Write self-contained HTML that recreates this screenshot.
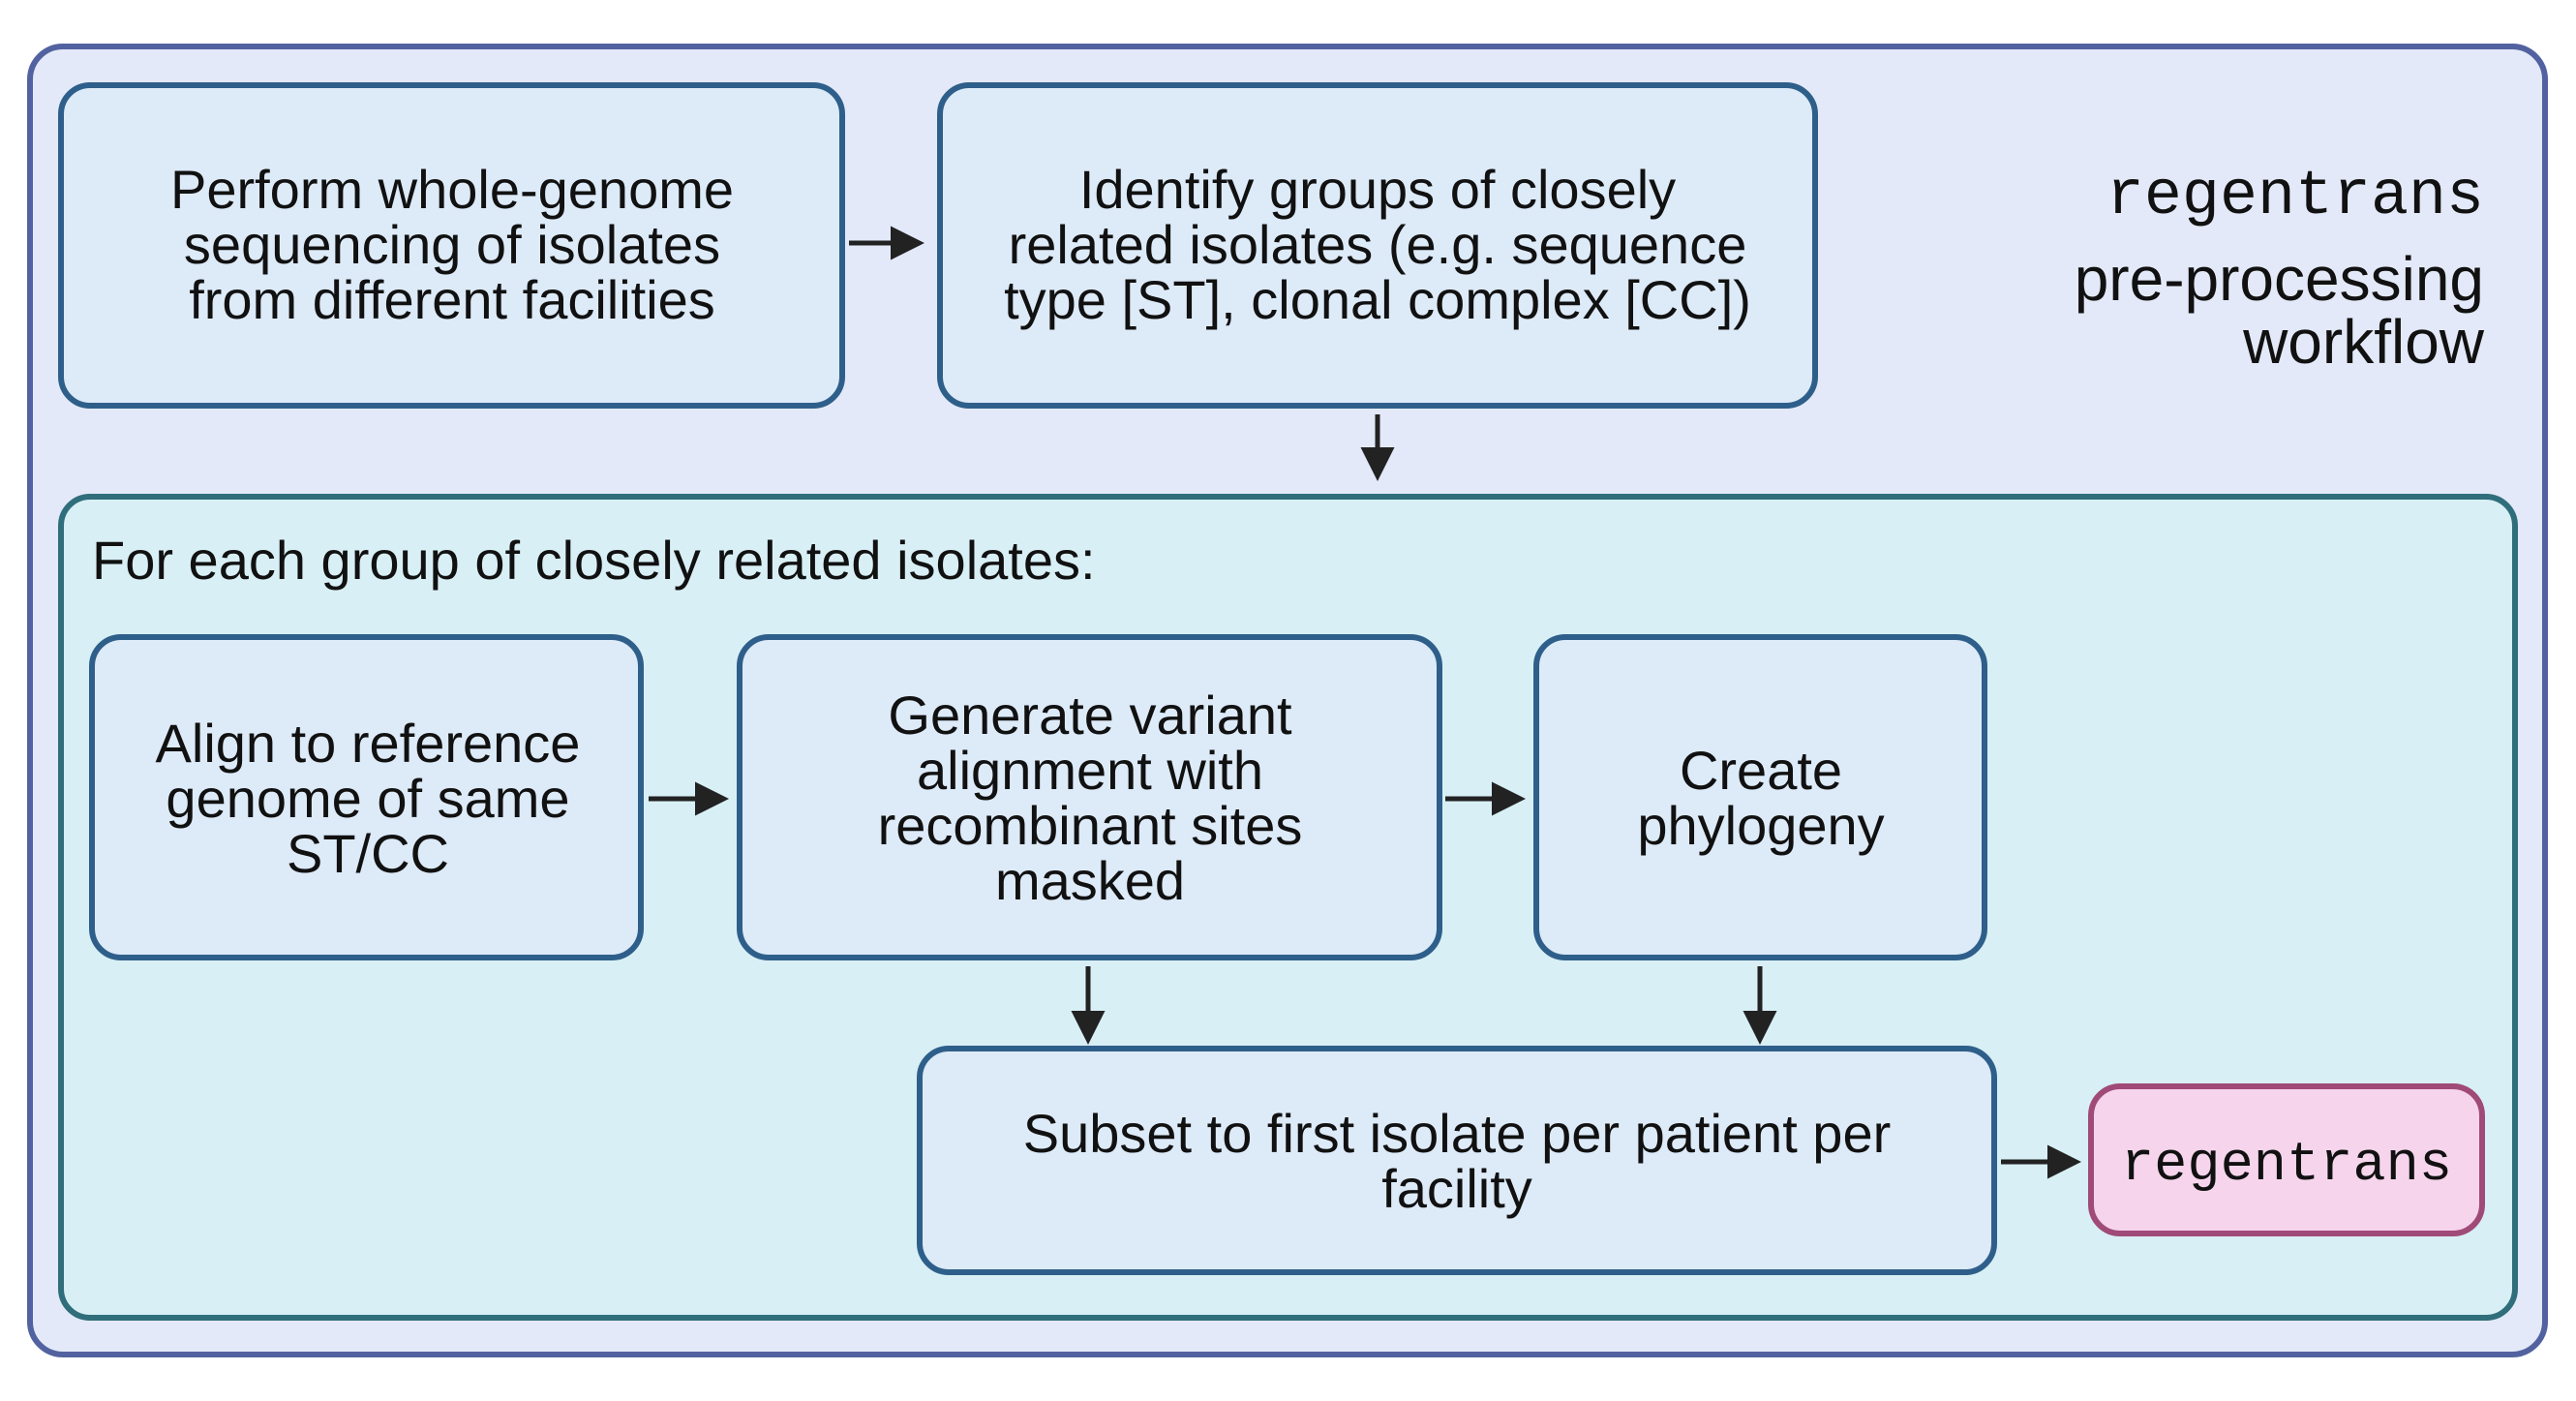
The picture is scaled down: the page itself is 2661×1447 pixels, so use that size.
<!DOCTYPE html>
<html><head><meta charset="utf-8"><style>
html,body{margin:0;padding:0;background:#fff;}
svg{display:block;}
text{font-family:"Liberation Sans",sans-serif;fill:#111;}
.t{font-size:56px;text-anchor:middle;}
.m{font-family:"Liberation Mono",monospace;}
</style></head><body>
<svg width="2661" height="1447" viewBox="0 0 2661 1447" xmlns="http://www.w3.org/2000/svg">
<defs><marker id="a" markerWidth="7" markerHeight="7" refX="6" refY="3.5" orient="auto" markerUnits="strokeWidth"><path d="M0,0 L7,3.5 L0,7 z" fill="#222"/></marker></defs>
<rect x="31" y="48" width="2598" height="1351" rx="34" fill="#e3e9f8" stroke="#5262a0" stroke-width="6"/>
<rect x="63" y="88" width="807" height="331" rx="30" fill="#ddeaf8" stroke="#2e5f8a" stroke-width="6"/>
<text class="t"><tspan x="467" y="215">Perform whole-genome</tspan><tspan x="467" y="272">sequencing of isolates</tspan><tspan x="467" y="329">from different facilities</tspan></text>
<rect x="971" y="88" width="904" height="331" rx="30" fill="#ddeaf8" stroke="#2e5f8a" stroke-width="6"/>
<text class="t"><tspan x="1423" y="215">Identify groups of closely</tspan><tspan x="1423" y="272">related isolates (e.g. sequence</tspan><tspan x="1423" y="329">type [ST], clonal complex [CC])</tspan></text>
<text class="m" x="2566" y="220" font-size="65" text-anchor="end">regentrans</text>
<text x="2566" y="310" font-size="64" text-anchor="end">pre-processing</text>
<text x="2566" y="375" font-size="64" text-anchor="end">workflow</text>
<line x1="877" y1="251" x2="950" y2="251" stroke="#222" stroke-width="5" marker-end="url(#a)"/>
<line x1="1423" y1="428" x2="1423" y2="492" stroke="#222" stroke-width="5" marker-end="url(#a)"/>
<rect x="63" y="513" width="2535" height="848" rx="30" fill="#d8eff5" stroke="#2f6e7a" stroke-width="6"/>
<text x="95" y="598" font-size="56">For each group of closely related isolates:</text>
<rect x="95" y="658" width="567" height="331" rx="30" fill="#ddeaf8" stroke="#2e5f8a" stroke-width="6"/>
<text class="t"><tspan x="380" y="787">Align to reference</tspan><tspan x="380" y="844">genome of same</tspan><tspan x="380" y="901">ST/CC</tspan></text>
<rect x="764" y="658" width="723" height="331" rx="30" fill="#ddeaf8" stroke="#2e5f8a" stroke-width="6"/>
<text class="t"><tspan x="1126" y="758">Generate variant</tspan><tspan x="1126" y="815">alignment with</tspan><tspan x="1126" y="872">recombinant sites</tspan><tspan x="1126" y="929">masked</tspan></text>
<rect x="1587" y="658" width="463" height="331" rx="30" fill="#ddeaf8" stroke="#2e5f8a" stroke-width="6"/>
<text class="t"><tspan x="1819" y="815">Create</tspan><tspan x="1819" y="872">phylogeny</tspan></text>
<rect x="950" y="1083" width="1110" height="231" rx="30" fill="#ddeaf8" stroke="#2e5f8a" stroke-width="6"/>
<text class="t"><tspan x="1505" y="1190">Subset to first isolate per patient per</tspan><tspan x="1505" y="1247">facility</tspan></text>
<rect x="2160" y="1122" width="404" height="152" rx="30" fill="#f6d5ec" stroke="#a04a78" stroke-width="6"/>
<text class="m" x="2362" y="1218" font-size="57" text-anchor="middle">regentrans</text>
<line x1="670" y1="825" x2="748" y2="825" stroke="#222" stroke-width="5" marker-end="url(#a)"/>
<line x1="1493" y1="825" x2="1571" y2="825" stroke="#222" stroke-width="5" marker-end="url(#a)"/>
<line x1="1124" y1="998" x2="1124" y2="1074" stroke="#222" stroke-width="5" marker-end="url(#a)"/>
<line x1="1818" y1="998" x2="1818" y2="1074" stroke="#222" stroke-width="5" marker-end="url(#a)"/>
<line x1="2067" y1="1200" x2="2145" y2="1200" stroke="#222" stroke-width="5" marker-end="url(#a)"/>
</svg>
</body></html>
